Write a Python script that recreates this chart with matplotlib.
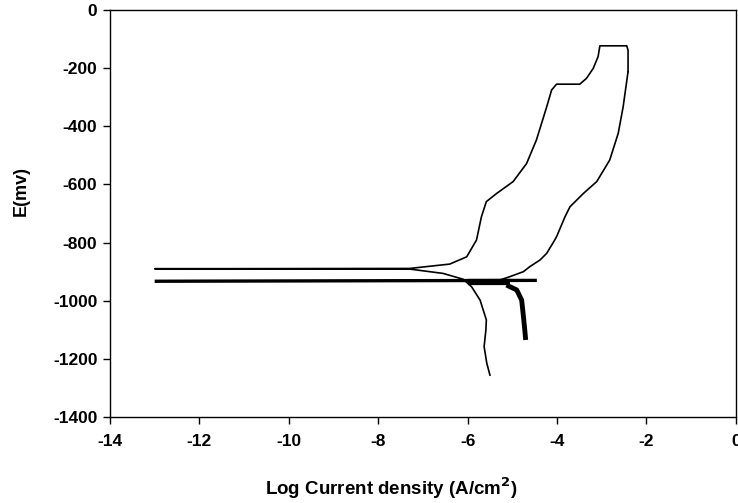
import matplotlib
matplotlib.use("Agg")
import matplotlib.pyplot as plt

# Forward scan: cathodic branch up to Ecorr (-890 mV), excursion to log i = -13, then anodic branch
fwd_x = [-5.50, -5.57, -5.63, -5.59, -5.58, -5.72, -5.91, -6.10, -6.55, -7.30, -13.0,
         -7.30, -6.40, -6.02, -5.80, -5.69, -5.58, -5.35, -4.98, -4.68, -4.46, -4.23,
         -4.12, -4.01, -3.49, -3.34, -3.19, -3.08, -3.04, -2.44, -2.41, -2.41]
fwd_E = [-1256, -1215, -1158, -1100, -1066, -998, -952, -926, -906, -891, -890,
         -889, -874, -849, -791, -711, -659, -631, -590, -528, -447, -333,
         -275, -255, -255, -235, -201, -160, -123, -123, -138, -212]

# Reverse scan: down to second Ecorr (-933 mV)
rev_x = [-2.41, -2.52, -2.63, -2.82, -3.11, -3.41, -3.71, -3.82, -4.01, -4.05, -4.23,
         -4.38, -4.61, -4.75, -5.05, -5.30]
rev_E = [-212, -333, -424, -516, -590, -631, -677, -711, -780, -791, -837,
         -860, -883, -900, -917, -930]

# Second Ecorr excursion (noisy, thick)
ecorr_x = [-13.0, -4.45]
ecorr_E = [-933, -930]
blob_x = [-6.00, -5.05]
blob_E = [-934, -934]

# Reverse cathodic branch (noisy)
cat_x = [-5.13, -4.90, -4.79, -4.75, -4.72, -4.70]
cat_E = [-946, -963, -998, -1055, -1101, -1135]

xticks = [-14, -12, -10, -8, -6, -4, -2, 0]
yticks = [0, -200, -400, -600, -800, -1000, -1200, -1400]

plt.rcParams['font.family'] = ['Liberation Sans', 'DejaVu Sans']
plt.rcParams['font.weight'] = 'bold'

fig = plt.figure(figsize=(7.38, 5.03), dpi=100)
ax = fig.add_axes([0.149, 0.171, 0.848, 0.809])

ax.plot(fwd_x, fwd_E, color='black', lw=1.2)
ax.plot(rev_x, rev_E, color='black', lw=1.2)
ax.plot(ecorr_x, ecorr_E, color='black', lw=2.4, solid_capstyle='butt')
ax.plot(blob_x, blob_E, color='black', lw=4.5, solid_capstyle='butt')
ax.plot(cat_x, cat_E, color='black', lw=3.5, solid_capstyle='butt')

ax.set_xlim(-14, 0)
ax.set_ylim(-1400, 0)
ax.set_xticks(xticks)
ax.set_yticks(yticks)
ax.set_xticklabels([str(t) for t in xticks], fontsize=12.5, fontweight='bold')
ax.set_yticklabels([str(t) for t in yticks], fontsize=12.5, fontweight='bold')
ax.tick_params(direction='out', length=5, width=1, colors='black')
ax.tick_params(axis='x', pad=7)
ax.tick_params(axis='y', pad=4)
for s in ax.spines.values():
    s.set_linewidth(1.0)

ax.set_xlabel('Log Current density (A/cm$^\\mathbf{2}$)', fontsize=13.5, fontweight='bold')
ax.set_ylabel('E(mv)', fontsize=13, fontweight='bold')
ax.xaxis.set_label_coords(0.45, -0.145)
ax.yaxis.set_label_coords(-0.128, 0.555)

fig.savefig('out.png', dpi=100)
